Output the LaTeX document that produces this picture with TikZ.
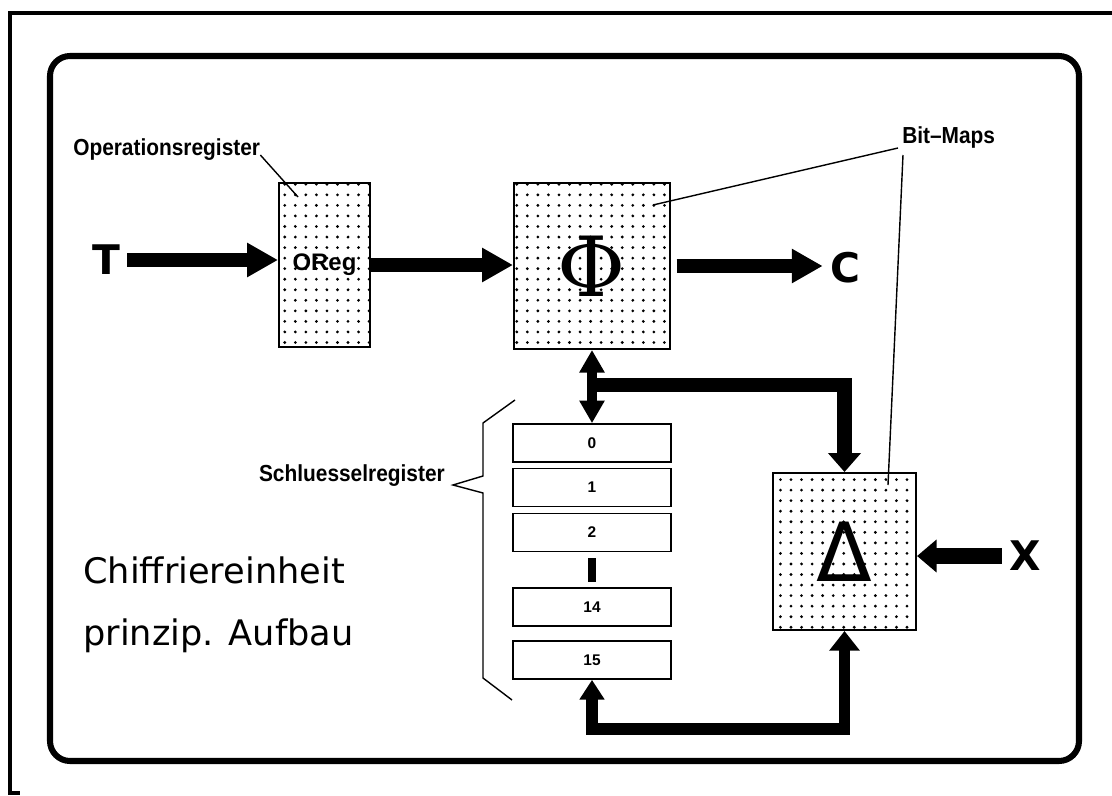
\documentclass[tikz,border=0pt]{standalone}
\usepackage{fontspec}
\setmainfont{DejaVu Sans}
\newfontfamily\lblfont{Liberation Sans}
\newfontfamily\phifont{DejaVu Serif}
\usetikzlibrary{arrows.meta,positioning,calc,patterns.meta}

\begin{document}
\begin{tikzpicture}[x=0.025cm,y=-0.025cm,
  bitmap/.style={draw,line width=1.4pt,inner sep=0pt,
    pattern={Dots[radius=1.1pt,distance=7.5pt]}},
  reg/.style={draw,line width=1.2pt,minimum width=3.95cm,minimum height=0.95cm,
    inner sep=0pt,font=\lblfont\bfseries\fontsize{11}{12}\selectfont},
  lbl/.style={font=\lblfont\bfseries\fontsize{16.5}{18}\selectfont,inner sep=0pt,xscale=0.9},
  letter/.style={font=\bfseries\fontsize{29}{30}\selectfont,inner sep=5pt},
  title/.style={font=\fontsize{25}{28}\selectfont,inner sep=0pt,anchor=base west},
  leader/.style={line width=1pt},
  bigarrow/.style={line width=10.6pt,-{Triangle[length=22pt,width=23pt]}},
  xarrow/.style={line width=11.3pt,-{Triangle[length=14pt,width=22.7pt]}},
  dblarrow/.style={line width=7pt,
    {Triangle[length=16pt,width=17pt]}-{Triangle[length=16pt,width=17pt]}},
  brarrow/.style={line width=10pt,-{Triangle[length=13.5pt,width=22.7pt]}},
  busarrow/.style={line width=8.5pt,
    {Triangle[length=14pt,width=17pt]}-{Triangle[length=14pt,width=21pt]}}]
\useasboundingbox (0,0) rectangle (1112,796);

% frames
\draw[line width=3.5pt] (1112,13) -- (10,13) -- (10,793) -- (20,793);
\draw[line width=4.3pt,rounded corners=0.5cm] (50,56) rectangle (1079,761);

% registers and bit-maps
\node[bitmap,minimum width=2.275cm,minimum height=4.1cm,
  font=\lblfont\bfseries\fontsize{17}{18}\selectfont] (oreg) at (324.5,265) {OReg};
\node[bitmap,minimum width=3.9cm,minimum height=4.15cm] (phi) at (592,266)
  {\phifont\fontsize{59}{60}\selectfont Φ};
\node[bitmap,minimum width=3.575cm,minimum height=3.925cm] (delta) at (844.5,551.5)
  {\fontsize{58}{60}\selectfont Δ};
\foreach \n/\y in {0/443,1/487.5,2/532.5,14/607,15/660}
  \node[reg] (r\n) at (592,\y) {\n};
\fill (588,558) rectangle (596,582);

% inputs and outputs
\node[letter] (t) at (106,260) {T};
\node[letter] (c) at (845,268) {C};
\node[letter] (x) at (1025,556) {X};

\draw[bigarrow] (t.east) -- (t.east -| oreg.west);
\draw[bigarrow] (oreg.east) -- (oreg.east -| phi.west);
\draw[bigarrow,shorten <=4pt] (phi.east) -- (phi.east -| c.west);
\draw[xarrow] (x.west) -- (x.west -| delta.east);

\coordinate (jn) at (592,385);
\draw[dblarrow] (phi.south) -- (phi.south |- r0.north);
\draw[brarrow] (jn) -| (delta.north);
\draw[busarrow] (r15.south) -- ++(0,49) -| (delta.south);

% labels
\node[lbl,anchor=base west] (oplbl) at (73,155) {Operationsregister};
\coordinate (opin) at (298,197);
\draw[leader] (oplbl.base east) -- (opin);

\node[lbl,anchor=base west] (bmlbl) at (902,143) {Bit\textendash Maps};
\coordinate (phipt) at (653,205);
\coordinate (dlpt) at (888,485);
\draw[leader] ([shift={(-4,5)}]bmlbl.base west) -- (phipt);
\draw[leader] ([shift={(1,12)}]bmlbl.base west) -- (dlpt);

\coordinate (btip) at (453,485);
\draw[leader] (515,400) -- (483,423) -- (483,476) -- (btip) -- (483,493)
  -- (483,678) -- (512,700);
\node[lbl,anchor=base east] (keylbl) at (445,481) {Schluesselregister};

\node[title] (title1) at (83,583) {Chiffriereinheit};
\node[title] (title2) at (83,645) {prinzip. Aufbau};
\end{tikzpicture}
\end{document}
